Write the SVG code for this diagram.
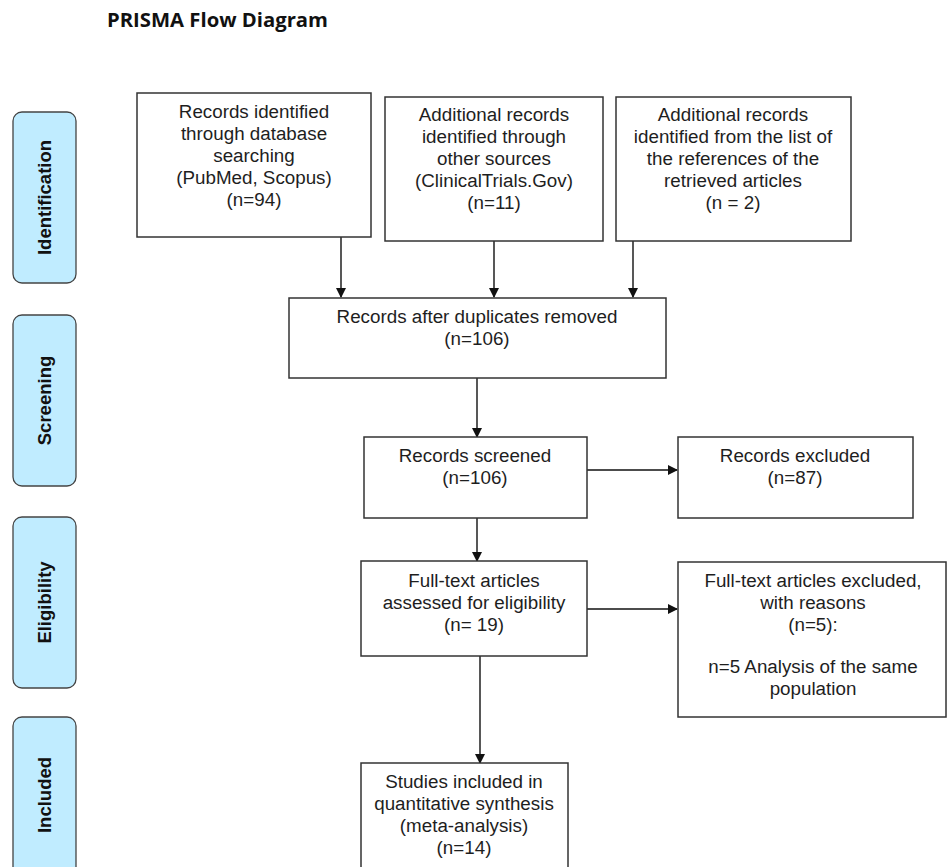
<svg xmlns="http://www.w3.org/2000/svg" width="948" height="867" viewBox="0 0 948 867">
<defs>
<style>
.bg{fill:#ffffff}
.box{fill:#ffffff;stroke:#333333;stroke-width:1.5}
.side{fill:#c0ecff;stroke:#444444;stroke-width:1.3}
.t{font-family:"Liberation Sans",Arial,sans-serif;font-size:18.8px;fill:#1e1e1e;text-anchor:middle}
.s{font-family:"Liberation Sans",Arial,sans-serif;font-size:18.5px;font-weight:bold;fill:#111111;text-anchor:middle}
.title{font-family:"Open Sans","Liberation Sans",sans-serif;font-size:19px;font-weight:bold;fill:#111111}
.c{stroke:#111111;stroke-width:1.4;fill:none;marker-end:url(#ah)}
</style>
<marker id="ah" markerWidth="10" markerHeight="10" refX="9" refY="5" orient="auto" markerUnits="userSpaceOnUse">
<path d="M0,0 L10,5 L0,10 Z" fill="#111111"/>
</marker>
</defs>
<rect class="bg" x="0" y="0" width="948" height="867"/>
<text class="title" x="107" y="27" textLength="221" lengthAdjust="spacingAndGlyphs">PRISMA Flow Diagram</text>

<g id="side-identification">
<rect class="side" x="13" y="112" width="63" height="171" rx="9"/>
<text class="s" transform="translate(50.5,197.5) rotate(-90)">Identification</text>
</g>
<g id="side-screening">
<rect class="side" x="13" y="315" width="63" height="171" rx="9"/>
<text class="s" transform="translate(50.5,400.5) rotate(-90)">Screening</text>
</g>
<g id="side-eligibility">
<rect class="side" x="13" y="517" width="63" height="171" rx="9"/>
<text class="s" transform="translate(50.5,602.5) rotate(-90)">Eligibility</text>
</g>
<g id="side-included">
<rect class="side" x="13" y="717" width="63" height="170" rx="9"/>
<text class="s" transform="translate(50.5,795) rotate(-90)">Included</text>
</g>

<g id="connectors">
<line class="c" x1="341" y1="237" x2="341" y2="297"/>
<line class="c" x1="494" y1="241" x2="494" y2="297"/>
<line class="c" x1="633" y1="241" x2="633" y2="297"/>
<line class="c" x1="477" y1="378" x2="477" y2="437"/>
<line class="c" x1="587" y1="470" x2="677" y2="470"/>
<line class="c" x1="477" y1="518" x2="477" y2="561"/>
<line class="c" x1="587" y1="609" x2="677" y2="609"/>
<line class="c" x1="480" y1="656" x2="480" y2="763"/>
</g>

<g id="n-database">
<rect class="box" x="137" y="93" width="234" height="144"/>
<text class="t" x="254" y="118">Records identified</text>
<text class="t" x="254" y="140">through database</text>
<text class="t" x="254" y="162">searching</text>
<text class="t" x="254" y="184">(PubMed, Scopus)</text>
<text class="t" x="254" y="206">(n=94)</text>
</g>
<g id="n-other">
<rect class="box" x="385" y="97" width="218" height="144"/>
<text class="t" x="494" y="121">Additional records</text>
<text class="t" x="494" y="143">identified through</text>
<text class="t" x="494" y="165">other sources</text>
<text class="t" x="494" y="187">(ClinicalTrials.Gov)</text>
<text class="t" x="494" y="209">(n=11)</text>
</g>
<g id="n-references">
<rect class="box" x="616" y="97" width="235" height="144"/>
<text class="t" x="733" y="121">Additional records</text>
<text class="t" x="733" y="143">identified from the list of</text>
<text class="t" x="733" y="165">the references of the</text>
<text class="t" x="733" y="187">retrieved articles</text>
<text class="t" x="733" y="209">(n = 2)</text>
</g>
<g id="n-duplicates">
<rect class="box" x="289" y="298" width="377" height="80"/>
<text class="t" x="477" y="323">Records after duplicates removed</text>
<text class="t" x="477" y="345">(n=106)</text>
</g>
<g id="n-screened">
<rect class="box" x="364" y="437" width="223" height="81"/>
<text class="t" x="475" y="462">Records screened</text>
<text class="t" x="475" y="484">(n=106)</text>
</g>
<g id="n-excluded">
<rect class="box" x="678" y="437" width="235" height="81"/>
<text class="t" x="795" y="462">Records excluded</text>
<text class="t" x="795" y="484">(n=87)</text>
</g>
<g id="n-fulltext">
<rect class="box" x="361" y="561" width="226" height="95"/>
<text class="t" x="474" y="587">Full-text articles</text>
<text class="t" x="474" y="609">assessed for eligibility</text>
<text class="t" x="474" y="631">(n= 19)</text>
</g>
<g id="n-ft-excluded">
<rect class="box" x="678" y="562" width="268" height="155"/>
<text class="t" x="813" y="587">Full-text articles excluded,</text>
<text class="t" x="813" y="609">with reasons</text>
<text class="t" x="813" y="631">(n=5):</text>
<text class="t" x="813" y="673">n=5 Analysis of the same</text>
<text class="t" x="813" y="695">population</text>
</g>
<g id="n-included">
<rect class="box" x="361" y="763" width="207" height="120"/>
<text class="t" x="464" y="788">Studies included in</text>
<text class="t" x="464" y="810">quantitative synthesis</text>
<text class="t" x="464" y="832">(meta-analysis)</text>
<text class="t" x="464" y="854">(n=14)</text>
</g>
</svg>
